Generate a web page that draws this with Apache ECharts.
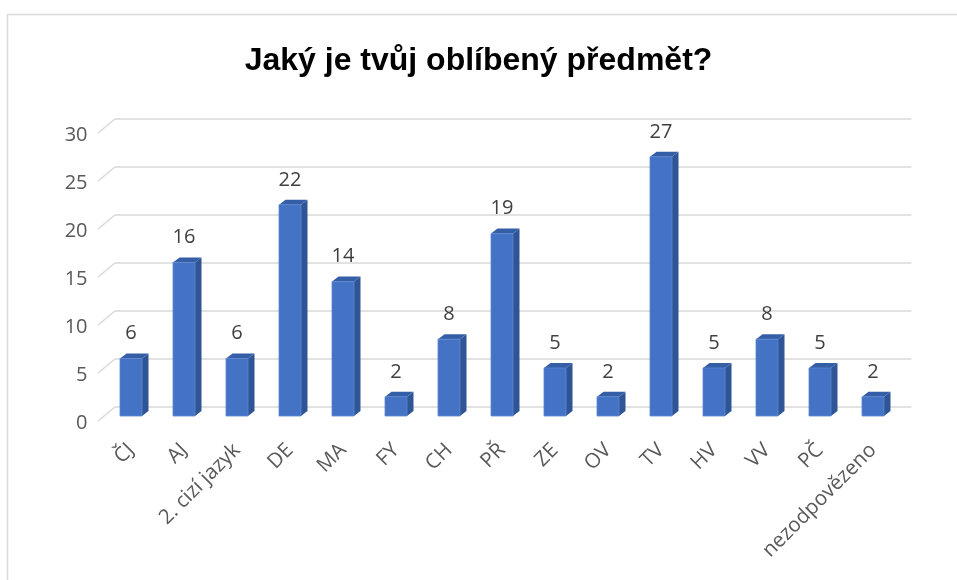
<!DOCTYPE html>
<html>
<head>
<meta charset="utf-8">
<script src="https://cdn.jsdelivr.net/npm/echarts@6/dist/echarts.min.js"></script>
<style>
  html, body { margin: 0; padding: 0; background: #fff; }
  #main { width: 957px; height: 580px; }
</style>
</head>
<body>
<div id="main"></div>
<script>
// data
var subjects = ['ČJ', 'AJ', '2. cizí jazyk', 'DE', 'MA', 'FY', 'CH', 'PŘ', 'ZE', 'OV', 'TV', 'HV', 'VV', 'PČ', 'nezodpovězeno'];
var votes = [6, 16, 6, 22, 14, 2, 8, 19, 5, 2, 27, 5, 8, 5, 2];
var yTicks = [0, 5, 10, 15, 20, 25, 30];

var chart = echarts.init(document.getElementById('main'));

// pseudo 3D offsets (depth of the bar and of the floor)
var BAR_W = 22, DX = 6.5, DY = 5;
var FONT = 'Open Sans';

function renderGrid(params, api) {
  var cs = params.coordSys;
  var y = api.coord([0, api.value(1)])[1];
  var style = { stroke: '#d9d9d9', lineWidth: 1.6 };
  return {
    type: 'group',
    children: [
      { type: 'line', shape: { x1: cs.x - 6.5, y1: y + 5, x2: cs.x + 10.5, y2: y - 9 }, style: style },
      { type: 'line', shape: { x1: cs.x + 10.5, y1: y - 9, x2: cs.x + cs.width + 12, y2: y - 9 }, style: style }
    ]
  };
}

function renderBar(params, api) {
  var idx = api.value(0);
  var val = api.value(1);
  var base = api.coord([idx, 0]);
  var top = api.coord([idx, val]);
  var x0 = base[0] - BAR_W / 2;
  var x1 = x0 + BAR_W;
  return {
    type: 'group',
    children: [
      { type: 'polygon', shape: { points: [[x1, top[1]], [x1 + DX, top[1] - DY], [x1 + DX, base[1] - DY], [x1, base[1]]] },
        style: { fill: '#2f5597' } },
      { type: 'polygon', shape: { points: [[x0, top[1]], [x0 + DX, top[1] - DY], [x1 + DX, top[1] - DY], [x1, top[1]]] },
        style: { fill: '#345ea6' } },
      { type: 'rect', shape: { x: x0, y: top[1], width: BAR_W, height: base[1] - top[1] },
        style: { fill: '#4472c4', stroke: '#5b86d0', lineWidth: 0.8 } },
      { type: 'text', x: base[0], y: top[1] - 25,
        style: { text: String(val), fill: '#404040', font: '20px "' + FONT + '"', align: 'center', verticalAlign: 'middle' } }
    ]
  };
}

chart.setOption({
  backgroundColor: '#fff',
  animation: false,
  title: {
    text: 'Jaký je tvůj oblíbený předmět?',
    left: 'center',
    top: 40,
    textStyle: { fontFamily: 'Liberation Sans', fontSize: 32, fontWeight: 'bold', color: '#000' }
  },
  graphic: [{
    type: 'rect',
    left: 5, top: 12,
    shape: { width: 1000, height: 620 },
    style: { fill: 'none', stroke: '#d9d9d9', lineWidth: 1.5 },
    z: -1
  }],
  grid: { left: 104.5, right: 57.5, top: 128, bottom: 164 },
  xAxis: {
    type: 'category',
    data: subjects,
    axisLine: { show: false },
    axisTick: { show: false },
    axisLabel: {
      interval: 0,
      rotate: 45,
      margin: 31,
      color: '#595959',
      fontSize: 20.5,
      fontFamily: FONT
    }
  },
  yAxis: {
    type: 'value',
    min: 0,
    max: 30,
    interval: 5,
    axisLine: { show: false },
    axisTick: { show: false },
    splitLine: { show: false },
    axisLabel: {
      margin: 17,
      verticalAlign: 'top',
      lineHeight: 14,
      color: '#595959',
      fontSize: 20,
      fontFamily: FONT
    }
  },
  series: [
    {
      type: 'custom',
      renderItem: renderGrid,
      data: yTicks.map(function (v) { return [0, v]; }),
      silent: true,
      z: 1
    },
    {
      type: 'custom',
      renderItem: renderBar,
      data: votes.map(function (v, i) { return [i, v]; }),
      z: 2
    }
  ]
});
</script>
</body>
</html>
